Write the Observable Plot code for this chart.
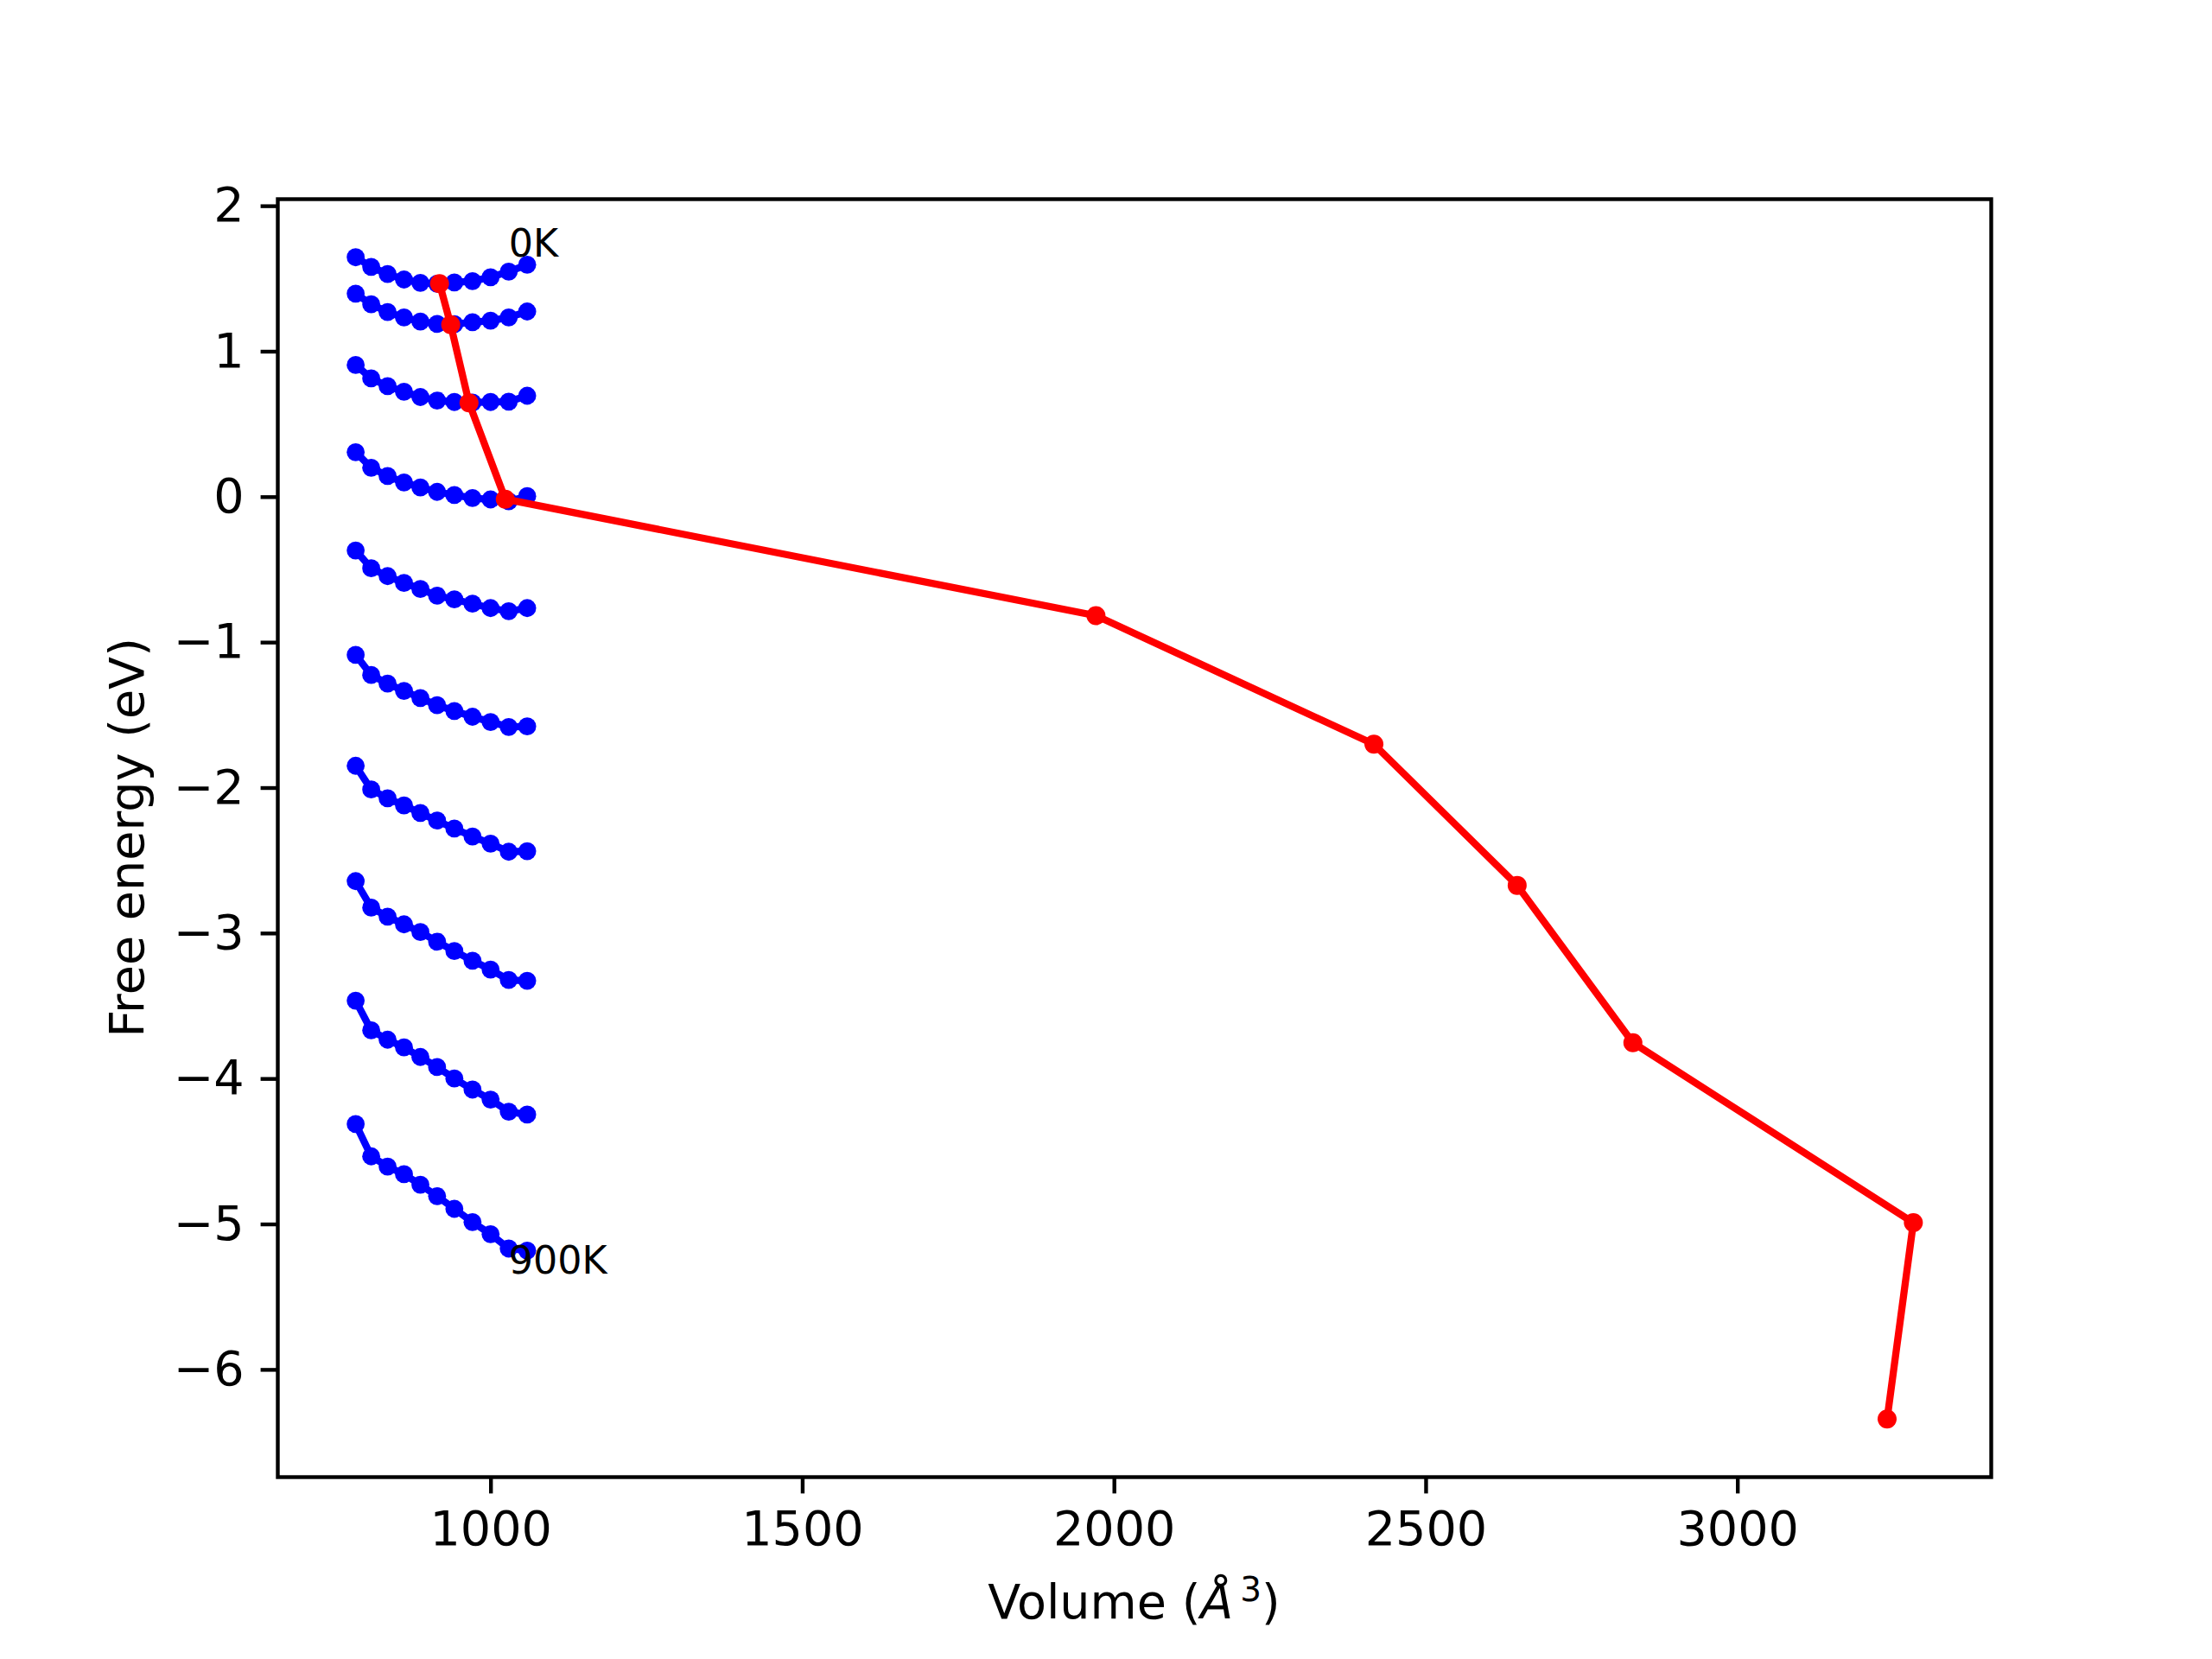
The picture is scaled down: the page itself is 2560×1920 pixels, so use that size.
<!DOCTYPE html>
<html>
<head>
<meta charset="utf-8">
<script src="https://cdn.jsdelivr.net/npm/d3@7"></script>
<script src="https://cdn.jsdelivr.net/npm/@observablehq/plot@0.6"></script>
<style>
  html, body { margin: 0; padding: 0; background: #ffffff; }
  #chart { width: 2560px; height: 1920px; }
</style>
</head>
<body>
<div id="chart"></div>
<script>
// ---- Data ----
const volumes = [783.0, 807.9, 834.2, 860.5, 886.8, 913.6, 941.3, 970.4, 999.4, 1028.5, 1058.1];
const temperatures = [0, 100, 200, 300, 400, 500, 600, 700, 800, 900];

const energy0K   = [1.649, 1.583, 1.534, 1.496, 1.473, 1.467, 1.476, 1.485, 1.512, 1.550, 1.598];
const energy100K = [1.399, 1.326, 1.272, 1.235, 1.207, 1.191, 1.189, 1.203, 1.213, 1.235, 1.276];
const energy200K = [0.908, 0.816, 0.763, 0.724, 0.688, 0.664, 0.654, 0.650, 0.654, 0.656, 0.697];
const energy300K = [0.309, 0.202, 0.145, 0.101, 0.067, 0.036, 0.014, -0.006, -0.016, -0.029, 0.007];
const energy400K = [-0.367, -0.489, -0.543, -0.590, -0.632, -0.678, -0.703, -0.733, -0.763, -0.785, -0.763];
const energy500K = [-1.084, -1.223, -1.282, -1.332, -1.381, -1.431, -1.470, -1.510, -1.546, -1.580, -1.576];
const energy600K = [-1.847, -2.010, -2.071, -2.119, -2.172, -2.224, -2.279, -2.333, -2.382, -2.438, -2.434];
const energy700K = [-2.640, -2.822, -2.884, -2.937, -2.990, -3.056, -3.121, -3.187, -3.248, -3.319, -3.325];
const energy800K = [-3.462, -3.666, -3.730, -3.783, -3.849, -3.918, -3.997, -4.073, -4.142, -4.225, -4.245];
const energy900K = [-4.310, -4.532, -4.602, -4.655, -4.727, -4.806, -4.893, -4.984, -5.067, -5.166, -5.180];

const minVolume = [917.5, 935.4, 964.8, 1023.0, 1970.5, 2416.3, 2646.1, 2831.7, 3281.6, 3239.5];
const minEnergy = [1.468, 1.185, 0.648, -0.014, -0.815, -1.699, -2.669, -3.751, -4.988, -6.338];

const xTicks = [1000, 1500, 2000, 2500, 3000];
const yTicks = [-6, -5, -4, -3, -2, -1, 0, 1, 2];

const labelText = ["0K", "900K"];
const labelVolume = [1028.5, 1028.5];
const labelEnergy = [1.654, -5.339];

// ---- Build tables ----
const energies = [energy0K, energy100K, energy200K, energy300K, energy400K,
                  energy500K, energy600K, energy700K, energy800K, energy900K];
const blue = temperatures.flatMap((T, i) => volumes.map((v, j) => ({T, v, e: energies[i][j]})));
const red = minVolume.map((v, i) => ({v, e: minEnergy[i]}));
const labels = labelText.map((t, i) => ({t, v: labelVolume[i], e: labelEnergy[i]}));

const allV = [...volumes, ...minVolume];
const allE = [...energies.flat(), ...minEnergy];
const pad = ([a, b]) => [a - (b - a) * 0.05, b + (b - a) * 0.05];

const tickFont = 55.6;
const lw = 4.4;

const plot = Plot.plot({
  width: 2560,
  height: 1920,
  marginLeft: 321,
  marginRight: 256,
  marginTop: 230,
  marginBottom: 211,
  style: {fontFamily: "DejaVu Sans", fontSize: tickFont + "px", background: "#ffffff", color: "#000000"},
  x: {domain: pad(d3.extent(allV))},
  y: {domain: pad(d3.extent(allE))},
  marks: [
    Plot.line(blue, {x: "v", y: "e", z: "T", stroke: "#0000ff", strokeWidth: 8.3}),
    Plot.dot(blue, {x: "v", y: "e", r: 10.4, fill: "#0000ff", stroke: null}),
    Plot.line(red, {x: "v", y: "e", stroke: "#ff0000", strokeWidth: 8.3}),
    Plot.dot(red, {x: "v", y: "e", r: 11, fill: "#ff0000", stroke: null}),
    Plot.text(labels, {x: "v", y: "e", text: "t", textAnchor: "start", lineAnchor: "bottom", fontSize: 44.4, fill: "#000000"}),
    Plot.axisX(xTicks, {tickSize: 19.4, tickPadding: 19.4, strokeWidth: lw, tickFormat: d3.format("d"), label: null, fontSize: tickFont}),
    Plot.axisY(yTicks, {tickSize: 19.4, tickPadding: 19.4, strokeWidth: lw, tickFormat: d3.format("d"), label: null, fontSize: tickFont}),
    Plot.frame({stroke: "#000000", strokeWidth: lw})
  ]
});

document.getElementById("chart").appendChild(plot);

// ---- Axis titles ----
const svg = d3.select(plot);
const xr = plot.scale("x").range;
const yr = plot.scale("y").range;
const xc = (xr[0] + xr[1]) / 2;
const yc = (yr[0] + yr[1]) / 2;
const bottom = Math.max(yr[0], yr[1]);

const xl = svg.append("text")
  .attr("x", xc)
  .attr("y", bottom + 164)
  .attr("text-anchor", "middle")
  .attr("font-family", "DejaVu Sans")
  .attr("font-size", tickFont)
  .attr("fill", "#000000");
xl.append("tspan").text("Volume (");
xl.append("tspan").attr("font-style", "italic").text("Å");
xl.append("tspan").attr("font-size", 38.9).attr("dx", 8).attr("dy", -20).text("3");
xl.append("tspan").attr("dy", 20).text(")");

svg.append("text")
  .attr("transform", `translate(147,${yc}) rotate(-90)`)
  .attr("text-anchor", "middle")
  .attr("dy", "0.35em")
  .attr("font-family", "DejaVu Sans")
  .attr("font-size", tickFont)
  .attr("fill", "#000000")
  .text("Free energy (eV)");
</script>
</body>
</html>
